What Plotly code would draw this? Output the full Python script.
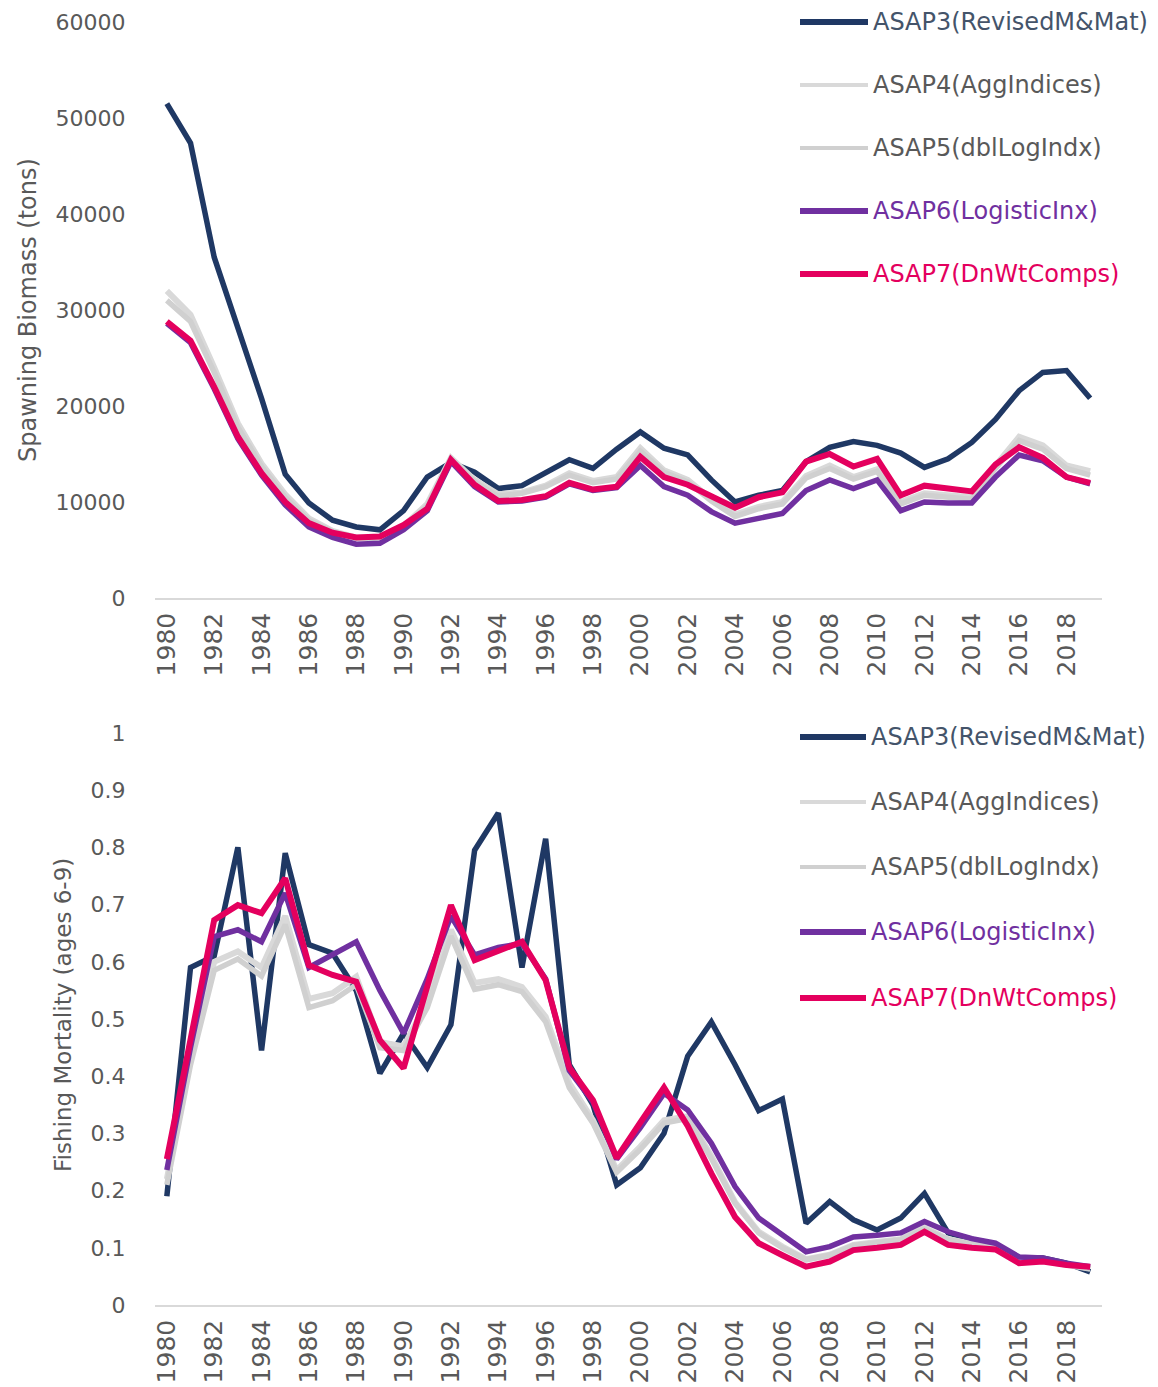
import plotly.graph_objects as go

# ---- data -------------------------------------------------------------
years = list(range(1980, 2020))
year_ticks = list(range(1980, 2019, 2))

series_names = [
    "ASAP3(RevisedM&Mat)",
    "ASAP4(AggIndices)",
    "ASAP5(dblLogIndx)",
    "ASAP6(LogisticInx)",
    "ASAP7(DnWtComps)",
]

# Spawning biomass (tons)
ssb_asap3 = [51500, 47400, 35500, 28300, 20800, 12900, 9900, 8100, 7400, 7100,
             9100, 12600, 14100, 13100, 11400, 11700, 13000, 14400, 13500, 15500,
             17300, 15600, 14900, 12300, 10000, 10700, 11200, 14200, 15700, 16300,
             15900, 15100, 13600, 14500, 16200, 18600, 21600, 23500, 23700, 20800]
ssb_asap4 = [32000, 29500, 24000, 18200, 14000, 10800, 8300, 7000, 6300, 6300,
             7500, 9800, 14600, 12300, 10800, 11000, 11700, 13000, 12200, 12600,
             15600, 13300, 12300, 10300, 8700, 9500, 10000, 12700, 13800, 12600,
             13400, 10000, 10900, 10700, 10500, 13800, 16800, 15900, 13800, 13200]
ssb_asap5 = [31000, 28800, 23500, 17800, 13700, 10500, 8100, 6900, 6200, 6200,
             7400, 9600, 14500, 12100, 10600, 10900, 11600, 12800, 12000, 12400,
             15300, 13100, 12100, 10100, 8500, 9300, 9800, 12500, 13500, 12400,
             13200, 9800, 10700, 10500, 10300, 13500, 16400, 15500, 13500, 12800]
ssb_asap6 = [28600, 26600, 21800, 16600, 12800, 9700, 7400, 6300, 5600, 5700,
             7100, 9100, 14200, 11600, 10000, 10100, 10500, 11900, 11200, 11500,
             13800, 11600, 10700, 9000, 7800, 8300, 8800, 11200, 12300, 11400,
             12300, 9100, 10000, 9900, 9900, 12600, 14900, 14300, 12600, 11900]
ssb_asap7 = [28800, 26800, 22000, 16800, 13000, 10000, 7800, 6800, 6300, 6400,
             7600, 9300, 14400, 11800, 10100, 10200, 10600, 12000, 11300, 11600,
             14700, 12600, 11800, 10600, 9400, 10500, 11000, 14200, 15000, 13700,
             14500, 10700, 11700, 11400, 11100, 13900, 15700, 14600, 12600, 12000]

# Fishing mortality (ages 6-9)
f_asap3 = [0.19, 0.59, 0.61, 0.80, 0.445, 0.79, 0.63, 0.615, 0.55, 0.405,
           0.475, 0.415, 0.49, 0.795, 0.86, 0.59, 0.815, 0.42, 0.35, 0.21,
           0.24, 0.30, 0.435, 0.495, 0.42, 0.34, 0.36, 0.143, 0.181, 0.149,
           0.131, 0.152, 0.195, 0.126, 0.115, 0.105, 0.082, 0.082, 0.073, 0.058]
f_asap4 = [0.22, 0.43, 0.60, 0.618, 0.59, 0.68, 0.535, 0.545, 0.574, 0.46,
           0.452, 0.53, 0.656, 0.563, 0.57, 0.556, 0.504, 0.388, 0.323, 0.236,
           0.277, 0.323, 0.33, 0.26, 0.18, 0.128, 0.102, 0.08, 0.088, 0.105,
           0.11, 0.115, 0.135, 0.115, 0.107, 0.102, 0.078, 0.078, 0.071, 0.064]
f_asap5 = [0.21, 0.42, 0.585, 0.605, 0.575, 0.665, 0.52, 0.532, 0.56, 0.45,
           0.445, 0.52, 0.645, 0.552, 0.56, 0.548, 0.495, 0.38, 0.318, 0.232,
           0.272, 0.318, 0.326, 0.256, 0.178, 0.126, 0.1, 0.079, 0.087, 0.104,
           0.109, 0.114, 0.133, 0.114, 0.106, 0.101, 0.077, 0.077, 0.07, 0.063]
f_asap6 = [0.236, 0.45, 0.644, 0.656, 0.635, 0.72, 0.59, 0.612, 0.635, 0.55,
           0.475, 0.57, 0.68, 0.612, 0.625, 0.632, 0.57, 0.41, 0.355, 0.255,
           0.31, 0.37, 0.341, 0.283, 0.207, 0.152, 0.122, 0.093, 0.102, 0.119,
           0.122, 0.126, 0.146, 0.128, 0.116, 0.108, 0.084, 0.082, 0.073, 0.067]
f_asap7 = [0.255, 0.47, 0.673, 0.699, 0.685, 0.746, 0.594, 0.577, 0.565, 0.463,
           0.414, 0.557, 0.699, 0.603, 0.618, 0.635, 0.568, 0.415, 0.358, 0.257,
           0.319, 0.38, 0.313, 0.23, 0.154, 0.108, 0.087, 0.067, 0.076, 0.096,
           0.10, 0.105, 0.128, 0.105, 0.10, 0.097, 0.073, 0.076, 0.07, 0.067]

f_ticks = [0, 0.1, 0.2, 0.3, 0.4, 0.5, 0.6, 0.7, 0.8, 0.9, 1]
f_tick_labels = ["0", "0.1", "0.2", "0.3", "0.4", "0.5", "0.6", "0.7", "0.8",
                 "0.9", "1"]

# ---- styling ----------------------------------------------------------
W, H = 1158, 1387
FONT = "DejaVu Sans"
TXT = "#595959"
line_colors = ["#1F3864", "#D9D9D9", "#D0D0D0", "#7030A0", "#E4005E"]
line_widths = [5.5, 6, 5.5, 5.5, 6]
text_colors = ["#44546A", TXT, TXT, "#7030A0", "#E4005E"]


def px_x(p):
    return p / W


def px_y(p):
    return 1 - p / H


fig = go.Figure()

panels = [
    ("x", "y", [ssb_asap3, ssb_asap4, ssb_asap5, ssb_asap6, ssb_asap7]),
    ("x2", "y2", [f_asap3, f_asap4, f_asap5, f_asap6, f_asap7]),
]
for xa, ya, data in panels:
    for name, vals, col, lw in zip(series_names, data, line_colors, line_widths):
        fig.add_trace(go.Scatter(
            x=years, y=vals, mode="lines", name=name, xaxis=xa, yaxis=ya,
            line=dict(color=col, width=lw), showlegend=False,
        ))

plot_left, plot_right = 155, 1102
xdom = [px_x(plot_left), px_x(plot_right)]

common_x = dict(
    range=[1979.5, 2019.5], tickmode="array", tickvals=year_ticks,
    tickangle=-90, showgrid=False, zeroline=False, showline=True,
    linecolor="#D9D9D9", linewidth=1.5, ticks="outside", ticklen=3,
    tickcolor="rgba(0,0,0,0)", tickfont=dict(family=FONT, size=25, color=TXT),
    domain=xdom, automargin=False,
)
common_y = dict(
    showgrid=False, zeroline=False, showline=False, ticks="outside",
    ticklen=24, tickcolor="rgba(0,0,0,0)", automargin=False,
    tickfont=dict(family=FONT, size=22, color=TXT),
)

fig.update_layout(
    width=W, height=H, margin=dict(l=0, r=0, t=0, b=0, autoexpand=False),
    paper_bgcolor="white", plot_bgcolor="white", showlegend=False,
    xaxis=dict(common_x, anchor="y"),
    yaxis=dict(common_y, anchor="x", range=[0, 60000], dtick=10000,
               tickformat="d", domain=[px_y(598), px_y(22)]),
    xaxis2=dict(common_x, anchor="y2"),
    yaxis2=dict(common_y, anchor="x2", range=[0, 1], tickmode="array",
                tickvals=f_ticks, ticktext=f_tick_labels,
                domain=[px_y(1305), px_y(733)]),
)

# axis titles
fig.add_annotation(text="Spawning Biomass (tons)", xref="paper", yref="paper",
                   x=px_x(28), y=px_y(310), xanchor="center", yanchor="middle",
                   textangle=-90, showarrow=False,
                   font=dict(family=FONT, size=24, color=TXT))
fig.add_annotation(text="Fishing Mortality (ages 6-9)", xref="paper", yref="paper",
                   x=px_x(63), y=px_y(1015), xanchor="center", yanchor="middle",
                   textangle=-90, showarrow=False,
                   font=dict(family=FONT, size=23, color=TXT))

# legends (one block per panel)
legend_rows = [
    ([22, 85, 148, 211, 274], 800, 868),
    ([737, 802, 867, 932, 998], 800, 866),
]
leg_widths = [6, 4, 4, 6, 6]
for rows, x0, x1 in legend_rows:
    for name, yy, col, tcol, lw in zip(series_names, rows, line_colors,
                                       text_colors, leg_widths):
        fig.add_shape(type="line", xref="paper", yref="paper",
                      x0=px_x(x0), x1=px_x(x1), y0=px_y(yy), y1=px_y(yy),
                      line=dict(color=col, width=lw))
        fig.add_annotation(text=name, xref="paper", yref="paper",
                           x=px_x(x1 + 3), y=px_y(yy), xanchor="left",
                           yanchor="middle", showarrow=False,
                           font=dict(family=FONT, size=24, color=tcol))

fig.write_html("out.html")
